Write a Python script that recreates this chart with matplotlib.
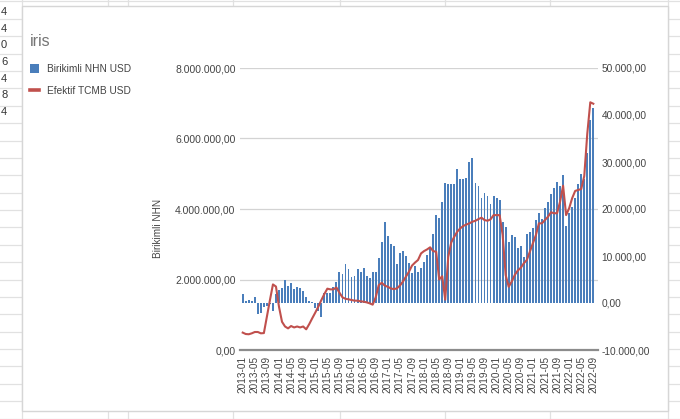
import matplotlib
matplotlib.use("Agg")
import matplotlib.pyplot as plt
from matplotlib.patches import Rectangle
from matplotlib.lines import Line2D
from matplotlib.ticker import FuncFormatter, FixedLocator
import numpy as np
import pandas as pd

# ---------------- data ----------------
months = [str(p) for p in pd.period_range("2013-01", "2022-09", freq="M")]

nhn_musd = [  # Birikimli NHN USD (millions)
    1.59, 1.40, 1.42, 1.38, 1.50, 1.01, 1.04, 1.22, 1.26, 1.30,
    1.11, 1.60, 1.70, 1.75, 1.99, 1.82, 1.89, 1.72, 1.80, 1.77,
    1.66, 1.50, 1.40, 1.36, 1.20, 1.10, 0.93, 1.63, 1.62, 1.63,
    1.78, 1.92, 2.22, 2.17, 2.45, 2.30, 2.08, 2.10, 2.29, 2.22,
    2.32, 2.10, 2.03, 2.20, 2.20, 2.60, 3.05, 3.62, 3.22, 3.00,
    2.95, 2.44, 2.74, 2.81, 2.67, 2.46, 2.18, 2.38, 2.20, 2.34,
    2.49, 2.70, 2.93, 3.28, 3.82, 3.75, 4.20, 4.75, 4.70, 4.70,
    4.70, 5.13, 4.85, 4.85, 4.87, 5.34, 5.44, 4.73, 4.65, 4.30,
    4.44, 4.37, 4.13, 4.38, 4.30, 4.26, 3.63, 3.48, 3.05, 3.26,
    3.21, 2.88, 2.95, 2.65, 3.28, 3.36, 3.47, 3.69, 3.88, 3.71,
    4.02, 4.21, 4.42, 4.59, 4.78, 4.66, 4.96, 3.53, 3.88, 4.05,
    4.30, 4.71, 5.00, 4.85, 5.60, 6.52, 6.86,
]

tcmb_usd = [  # Efektif TCMB USD
    -6300, -6600, -6650, -6450, -6170, -6170, -6450, -6400, -2900, 600,
    3950, 3500, -800, -4000, -5000, -5400, -4900, -5200, -5000, -5200,
    -5000, -5600, -4500, -3250, -2050, -800, 600, 1900, 3050, 2900,
    2900, 3300, 2200, 1200, 900, 780, 640, 500, 500, 350,
    280, 140, -70, -350, 1200, 3800, 4300, 3700, 3450, 3100,
    2950, 3100, 3700, 4550, 5600, 6650, 7950, 8600, 9150, 10550,
    11050, 11400, 11850, 11050, 10900, 5000, 5700, 700, 9800, 12900,
    14100, 15200, 15900, 16400, 16700, 16950, 17300, 17500, 17850, 18150,
    17650, 17500, 17800, 18700, 18700, 18700, 14500, 5950, 3450, 4550,
    5950, 6900, 7500, 8450, 9150, 10900, 12700, 14450, 16950, 16950,
    17650, 18350, 19300, 19100, 19100, 21550, 24950, 18700, 20150, 22300,
    23850, 24050, 24250, 27000, 36000, 42700, 42400,
]

left_ticks = [0, 2e6, 4e6, 6e6, 8e6]
right_ticks = [-10000, 0, 10000, 20000, 30000, 40000, 50000]

title = "iris"
bar_label = "Birikimli NHN USD"
line_label = "Efektif TCMB USD"
ylabel = "Birikimli NHN"
sheet_cells = ["4", "4", "0", "6", "4", "8", "4"]

# ---------------- style ----------------
W, H = 680, 419
DPI = 100
BLUE = "#4a7ebb"
RED = "#c0504d"
TXT = "#444444"
FONT = "Liberation Sans"
plt.rcParams["font.family"] = [FONT, "DejaVu Sans"]

fig = plt.figure(figsize=(W / DPI, H / DPI), dpi=DPI)
fig.patch.set_facecolor("white")

# background spreadsheet (pixel coordinates)
bg = fig.add_axes([0, 0, 1, 1], zorder=0)
bg.set_xlim(0, W)
bg.set_ylim(H, 0)
bg.axis("off")
grid_c = "#e1e1e1"
for k in range(26):
    y = 1.5 + 17.38 * k
    bg.plot([0, W], [y, y], color=grid_c, lw=0.9, zorder=0)
for x in [21.7, 108.3, 128.3, 233.3, 340, 445, 550, 668.3]:
    bg.plot([x, x], [0, H], color=grid_c, lw=0.9, zorder=0)
for k, ch in enumerate(sheet_cells):
    bg.text(1, 12 + 16.7 * k, ch, fontsize=8, color="#333333",
            va="center", ha="left", zorder=0.5)

# chart card
bg.add_patch(Rectangle((22, 6), 646, 405, facecolor="white",
                       edgecolor="#d6d6d6", lw=1.0, zorder=1))

bg.text(30, 41, title, fontsize=11.5, color="#757575", va="center",
        ha="left", zorder=2)
bg.text(158, 228, ylabel, fontsize=7.2, color=TXT, rotation=90,
        va="center", ha="center", zorder=2)

# main axes
x0, x1, ytop, ybot = 240, 598, 68, 350
ax = fig.add_axes([x0 / W, (H - ybot) / H, (x1 - x0) / W, (ybot - ytop) / H],
                  zorder=3)
ax.patch.set_alpha(0)
ax2 = ax.twinx()

L0, L1 = 0, 8e6
R0, R1 = -10000, 50000
ax.set_ylim(L0, L1)
ax2.set_ylim(R0, R1)

xs = np.arange(len(months))
ax.set_xlim(-0.9, len(months) + 0.55)

base = L0 + (0 - R0) / (R1 - R0) * (L1 - L0)
vals = np.array(nhn_musd) * 1e6
ax.bar(xs, vals - base, bottom=base, width=0.62, color=BLUE,
       edgecolor="none", zorder=2)
ax2.plot(xs, tcmb_usd, color=RED, lw=1.5, zorder=3, solid_joinstyle="round")


def tr_fmt(v, pos=None):
    s = f"{v:,.2f}"
    return s.replace(",", "X").replace(".", ",").replace("X", ".")


ax.yaxis.set_major_locator(FixedLocator(left_ticks))
ax.yaxis.set_major_formatter(FuncFormatter(tr_fmt))
ax2.yaxis.set_major_locator(FixedLocator(right_ticks))
ax2.yaxis.set_major_formatter(FuncFormatter(tr_fmt))

ax.set_xticks(xs[::4])
ax.set_xticklabels(months[::4], rotation=90, fontsize=7.2, color=TXT)
ax.tick_params(axis="x", length=0, pad=4)
ax.tick_params(axis="y", length=0, pad=3.2, labelsize=7.5, labelcolor=TXT)
ax2.tick_params(axis="y", length=0, pad=2.5, labelsize=7.3, labelcolor=TXT)

for t in left_ticks[1:]:
    ax.axhline(t, color="#d3d3d3", lw=0.9, zorder=0)

for a in (ax, ax2):
    for s in ("top", "left", "right", "bottom"):
        a.spines[s].set_visible(False)
ax.axhline(L0, color="#8c8c8c", lw=1.6, zorder=4, clip_on=False)

# legend
handles = [Rectangle((0, 0), 1, 1, facecolor=BLUE, edgecolor="none"),
           Line2D([0], [0], color=RED, lw=2.6)]
leg = fig.legend(handles, [bar_label, line_label], loc="upper left",
                 bbox_to_anchor=(30 / W, 1 - 64 / H), frameon=False,
                 fontsize=7.3, handlelength=0.9, handleheight=0.9,
                 handletextpad=0.75, labelspacing=1.2, borderpad=0,
                 borderaxespad=0)
for t in leg.get_texts():
    t.set_color(TXT)
leg.set_zorder(5)

fig.savefig("out.png", dpi=DPI)
